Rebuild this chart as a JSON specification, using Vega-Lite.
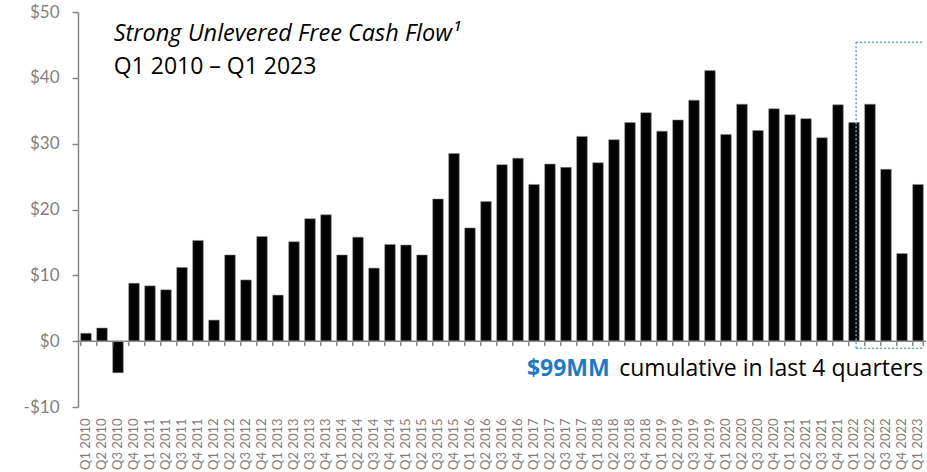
{
  "$schema": "https://vega.github.io/schema/vega-lite/v6.json",
  "autosize": "none",
  "width": 848,
  "height": 395,
  "padding": {"left": 78, "top": 12, "right": 1, "bottom": 65},
  "background": "white",
  "config": {"view": {"stroke": null}},
  "data": {"values": [
    {"quarter": "Q1 2010", "fcf": 1.2}, {"quarter": "Q2 2010", "fcf": 2.0}, {"quarter": "Q3 2010", "fcf": -4.8}, {"quarter": "Q4 2010", "fcf": 8.8},
    {"quarter": "Q1 2011", "fcf": 8.4}, {"quarter": "Q2 2011", "fcf": 7.8}, {"quarter": "Q3 2011", "fcf": 11.2}, {"quarter": "Q4 2011", "fcf": 15.3},
    {"quarter": "Q1 2012", "fcf": 3.2}, {"quarter": "Q2 2012", "fcf": 13.1}, {"quarter": "Q3 2012", "fcf": 9.3}, {"quarter": "Q4 2012", "fcf": 15.9},
    {"quarter": "Q1 2013", "fcf": 7.0}, {"quarter": "Q2 2013", "fcf": 15.1}, {"quarter": "Q3 2013", "fcf": 18.6}, {"quarter": "Q4 2013", "fcf": 19.2},
    {"quarter": "Q1 2014", "fcf": 13.1}, {"quarter": "Q2 2014", "fcf": 15.8}, {"quarter": "Q3 2014", "fcf": 11.1}, {"quarter": "Q4 2014", "fcf": 14.7},
    {"quarter": "Q1 2015", "fcf": 14.6}, {"quarter": "Q2 2015", "fcf": 13.1}, {"quarter": "Q3 2015", "fcf": 21.6}, {"quarter": "Q4 2015", "fcf": 28.5},
    {"quarter": "Q1 2016", "fcf": 17.2}, {"quarter": "Q2 2016", "fcf": 21.2}, {"quarter": "Q3 2016", "fcf": 26.8}, {"quarter": "Q4 2016", "fcf": 27.8},
    {"quarter": "Q1 2017", "fcf": 23.8}, {"quarter": "Q2 2017", "fcf": 26.9}, {"quarter": "Q3 2017", "fcf": 26.4}, {"quarter": "Q4 2017", "fcf": 31.1},
    {"quarter": "Q1 2018", "fcf": 27.1}, {"quarter": "Q2 2018", "fcf": 30.6}, {"quarter": "Q3 2018", "fcf": 33.2}, {"quarter": "Q4 2018", "fcf": 34.7},
    {"quarter": "Q1 2019", "fcf": 31.9}, {"quarter": "Q2 2019", "fcf": 33.6}, {"quarter": "Q3 2019", "fcf": 36.6}, {"quarter": "Q4 2019", "fcf": 41.1},
    {"quarter": "Q1 2020", "fcf": 31.4}, {"quarter": "Q2 2020", "fcf": 36.0}, {"quarter": "Q3 2020", "fcf": 32.0}, {"quarter": "Q4 2020", "fcf": 35.3},
    {"quarter": "Q1 2021", "fcf": 34.4}, {"quarter": "Q2 2021", "fcf": 33.8}, {"quarter": "Q3 2021", "fcf": 30.9}, {"quarter": "Q4 2021", "fcf": 35.9},
    {"quarter": "Q1 2022", "fcf": 33.2}, {"quarter": "Q2 2022", "fcf": 36.0}, {"quarter": "Q3 2022", "fcf": 26.1}, {"quarter": "Q4 2022", "fcf": 13.3},
    {"quarter": "Q1 2023", "fcf": 23.8}
  ]},
  "layer": [
    {
      "mark": {"type": "bar", "color": "black", "stroke": "#8c8c8c", "strokeWidth": 0.6},
      "encoding": {
        "x": {
          "field": "quarter", "type": "nominal", "sort": null,
          "scale": {"paddingInner": 0.34, "paddingOuter": 0.17},
          "axis": {
            "title": null, "domain": false, "ticks": false, "labelAngle": -90,
            "labelAlign": "right", "labelBaseline": "middle", "labelPadding": 11,
            "labelFont": "Lato", "labelFontSize": 13, "labelColor": "#7f7f7f"
          }
        },
        "y": {
          "field": "fcf", "type": "quantitative",
          "scale": {"domain": [-10, 50], "nice": false, "zero": false},
          "axis": {
            "title": null, "grid": false, "values": [-10, 0, 10, 20, 30, 40, 50],
            "labelExpr": "datum.value < 0 ? '-$' + abs(datum.value) : '$' + datum.value",
            "labelFont": "Lato", "labelFontSize": 17, "labelColor": "#7f7f7f", "labelPadding": 13,
            "domainColor": "#868686", "domainWidth": 1.5, "tickColor": "#868686", "tickWidth": 1.5, "tickSize": 6
          }
        }
      }
    },
    {
      "data": {"values": [{}]},
      "mark": {"type": "rule", "color": "#868686", "strokeWidth": 1.5},
      "encoding": {"y": {"datum": 0}}
    },
    {
      "mark": {"type": "rule", "color": "#868686", "strokeWidth": 1.5},
      "encoding": {
        "x": {"field": "quarter", "type": "nominal", "sort": null, "bandPosition": 0},
        "y": {"datum": 0},
        "y2": {"datum": -0.76}
      }
    },
    {
      "data": {"values": [{}]},
      "mark": {"type": "rule", "color": "#868686", "strokeWidth": 1.5},
      "encoding": {
        "x": {"datum": "Q1 2023", "bandPosition": 1},
        "y": {"datum": 0},
        "y2": {"datum": -0.76}
      }
    },
    {
      "data": {"values": [{}]},
      "mark": {"type": "text", "text": "Strong Unlevered Free Cash Flow¹", "font": "Open Sans", "fontSize": 23.5, "fontStyle": "italic", "align": "left", "baseline": "alphabetic", "color": "black", "dx": 1},
      "encoding": {"x": {"datum": "Q3 2010", "bandPosition": 0}, "y": {"datum": 45.6}}
    },
    {
      "data": {"values": [{}]},
      "mark": {"type": "text", "text": "Q1 2010 – Q1 2023", "font": "Open Sans", "fontSize": 23, "align": "left", "baseline": "alphabetic", "color": "black", "dx": 1},
      "encoding": {"x": {"datum": "Q3 2010", "bandPosition": 0}, "y": {"datum": 40.6}}
    },
    {
      "data": {"values": [{}]},
      "mark": {"type": "text", "text": "cumulative in last 4 quarters", "font": "Open Sans", "fontSize": 23, "align": "right", "baseline": "alphabetic", "color": "black", "dx": 0},
      "encoding": {"x": {"datum": "Q1 2023", "bandPosition": 1}, "y": {"datum": -5.35}}
    },
    {
      "data": {"values": [{}]},
      "mark": {"type": "text", "text": "$99MM", "font": "Open Sans", "fontSize": 23, "fontWeight": "bold", "align": "right", "baseline": "alphabetic", "color": "#1f7bc1", "dx": 1},
      "encoding": {"x": {"datum": "Q2 2018", "bandPosition": 0}, "y": {"datum": -5.35}}
    },
    {
      "data": {"values": [{}]},
      "mark": {"type": "rule", "color": "#5aa5dc", "strokeWidth": 1.5, "strokeDash": [2, 2]},
      "encoding": {"x": {"datum": "Q1 2022", "bandPosition": 0.7}, "x2": {"datum": "Q1 2023", "bandPosition": 1}, "y": {"datum": 45.4}}
    },
    {
      "data": {"values": [{}]},
      "mark": {"type": "rule", "color": "#5aa5dc", "strokeWidth": 1.5, "strokeDash": [2, 2]},
      "encoding": {"x": {"datum": "Q1 2022", "bandPosition": 0.7}, "x2": {"datum": "Q1 2023", "bandPosition": 1}, "y": {"datum": -1.06}}
    },
    {
      "data": {"values": [{}]},
      "mark": {"type": "rule", "color": "#5aa5dc", "strokeWidth": 1.5, "strokeDash": [2, 2]},
      "encoding": {"x": {"datum": "Q1 2022", "bandPosition": 0.7}, "y": {"datum": 45.4}, "y2": {"datum": -1.06}}
    }
  ]
}
